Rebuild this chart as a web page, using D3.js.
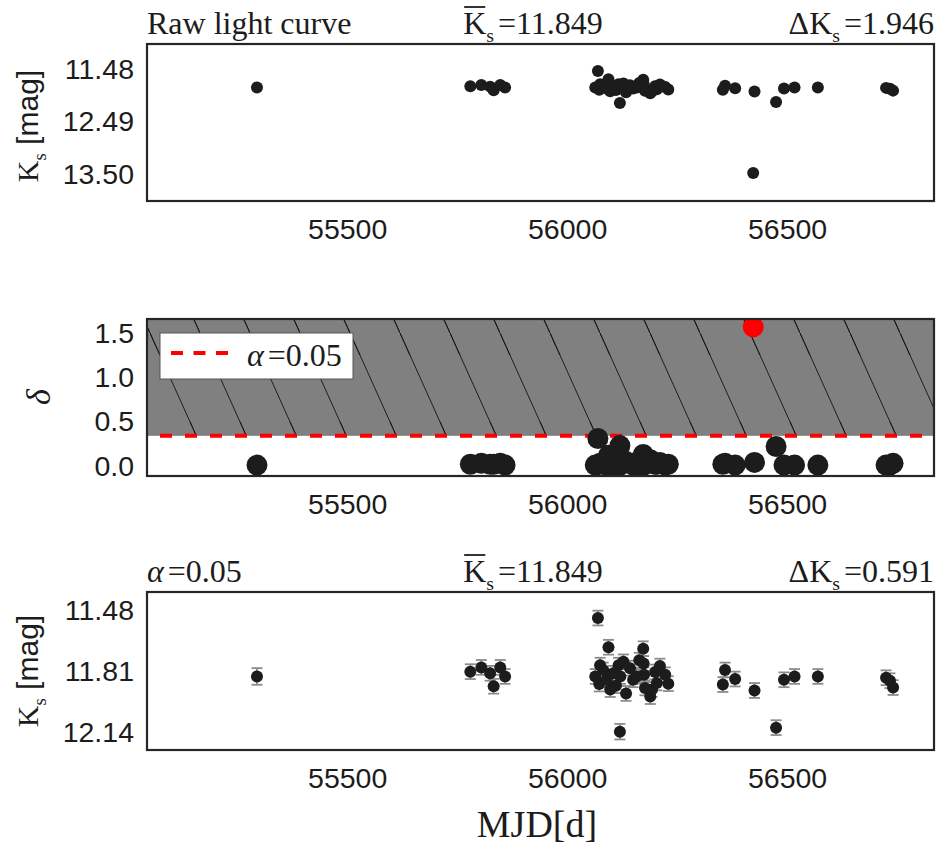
<!DOCTYPE html>
<html>
<head>
<meta charset="utf-8">
<script src="https://cdn.jsdelivr.net/npm/d3@7"></script>
<style>
  body { margin: 0; background: #fff; }
</style>
</head>
<body>
<svg id="chart" width="938" height="846"></svg>
<script>
// epochs (MJD) of the light curve
const mjd = [55295, 55780, 55805, 55825, 55833, 55848, 55859,
  56064, 56070, 56073, 56075, 56082, 56090, 56094, 56098, 56105, 56111, 56117,
  56120, 56121, 56128, 56134, 56143, 56150, 56158, 56164, 56173, 56174, 56175,
  56177, 56189, 56193, 56200, 56204, 56211, 56223, 56230,
  56354, 56359, 56382, 56423, 56426, 56475, 56493, 56517, 56570,
  56725, 56734, 56741];
// Ks magnitudes
const kMag = [11.837, 11.811, 11.788, 11.820, 11.890, 11.788, 11.837,
  11.837, 11.521, 11.878, 11.776, 11.802, 11.855, 11.679, 11.908, 11.820, 11.887, 11.776,
  12.136, 11.837, 11.758, 11.929, 11.792, 11.855, 11.837, 11.749, 11.687, 11.767, 11.828,
  11.899, 11.946, 11.908, 11.813, 11.872, 11.781, 11.828, 11.876,
  11.881, 11.802, 11.851, 13.480, 11.913, 12.114, 11.855, 11.837, 11.837,
  11.844, 11.860, 11.897];
// photometric errors
const kErr = [0.045, 0.040, 0.040, 0.040, 0.040, 0.040, 0.040,
  0.040, 0.040, 0.040, 0.040, 0.040, 0.040, 0.040, 0.040, 0.040, 0.040, 0.040,
  0.042, 0.040, 0.040, 0.040, 0.040, 0.040, 0.040, 0.040, 0.040, 0.040, 0.040,
  0.040, 0.040, 0.040, 0.040, 0.040, 0.040, 0.040, 0.040,
  0.040, 0.040, 0.040, 0.050, 0.040, 0.040, 0.040, 0.040, 0.040,
  0.040, 0.040, 0.040];
// outlier statistic delta
const deltaVal = [0.01, 0.02, 0.03, 0.02, 0.02, 0.03, 0.01,
  0.01, 0.31, 0.02, 0.03, 0.02, 0.01, 0.12, 0.04, 0.01, 0.03, 0.04,
  0.23, 0.01, 0.06, 0.05, 0.03, 0.01, 0.01, 0.06, 0.13, 0.05, 0.01,
  0.03, 0.07, 0.04, 0.02, 0.02, 0.04, 0.01, 0.02,
  0.02, 0.03, 0.01, 1.57, 0.04, 0.22, 0.01, 0.01, 0.01,
  0.01, 0.01, 0.03];

const deltaCrit = 0.34;
const alphaLabel = '0.05';
const rawMean = '11.849', rawRange = '1.946';
const cleanMean = '11.849', cleanRange = '0.591';

const xTicks = [55500, 56000, 56500];
const rawTicks = [11.48, 12.49, 13.50];
const deltaTicks = [0.0, 0.5, 1.0, 1.5];
const cleanTicks = [11.48, 11.81, 12.14];

const obs = mjd.map((d, i) => ({ mjd: d, k: kMag[i], err: kErr[i], delta: deltaVal[i] }));
const clean = obs.filter(d => d.delta < deltaCrit);

const SERIF = '"Liberation Serif", "DejaVu Serif", serif';
const SANS = '"Liberation Sans", Arial, sans-serif';
const INK = '#1c1c1c';

const svg = d3.select('#chart');
const left = 147, right = 934;

const x = d3.scaleLinear().domain([55045, 56834]).range([left, right]);

const yRaw = d3.scaleLinear().domain([11.0, 14.02]).range([44, 201]);
const yDelta = d3.scaleLinear().domain([-0.113, 1.658]).range([476, 319]);
const yClean = d3.scaleLinear().domain([11.38, 12.235]).range([592, 750]);

const defs = svg.append('defs');

function clipFor(id, y) {
  const top = Math.min(...y.range()), bottom = Math.max(...y.range());
  defs.append('clipPath').attr('id', id)
    .append('rect')
    .attr('x', left).attr('y', top)
    .attr('width', right - left)
    .attr('height', bottom - top);
}

function axes(y, ticks, fmt) {
  const top = Math.min(...y.range()), bottom = Math.max(...y.range());
  const gx = svg.append('g')
    .attr('transform', 'translate(0,' + bottom + ')')
    .call(d3.axisBottom(x).tickValues(xTicks).tickSize(0).tickPadding(17).tickFormat(d3.format('d')));
  const gy = svg.append('g')
    .attr('transform', 'translate(' + left + ',0)')
    .call(d3.axisLeft(y).tickValues(ticks).tickSize(0).tickPadding(13).tickFormat(fmt));
  [gx, gy].forEach(g => {
    g.select('.domain').remove();
    g.selectAll('text')
      .attr('font-family', SANS)
      .attr('font-size', 28.5)
      .attr('fill', INK);
  });
  gx.selectAll('text').attr('dy', '0.72em');
  // frame
  svg.append('rect')
    .attr('x', left).attr('y', top)
    .attr('width', right - left).attr('height', bottom - top)
    .attr('fill', 'none')
    .attr('stroke', '#262626')
    .attr('stroke-width', 2.2);
}

// piece-wise math-like label: [{t, sub, over, it, sans}]
function mathText(parent, pieces, xPos, yPos, anchor, size) {
  const t = parent.append('text')
    .attr('x', xPos).attr('y', yPos)
    .attr('text-anchor', anchor)
    .attr('font-family', SERIF)
    .attr('font-size', size)
    .attr('fill', INK);
  let shift = 0;
  pieces.forEach(p => {
    const sp = t.append('tspan').text(p.t);
    let dy = 0;
    if (p.sub && shift === 0) { dy = size * 0.26; shift = dy; }
    else if (!p.sub && shift !== 0) { dy = -shift; shift = 0; }
    if (dy) sp.attr('dy', dy);
    if (p.sub) sp.attr('font-size', size * 0.62);
    if (p.it) sp.attr('font-style', 'italic');
    if (p.sans) sp.attr('font-family', SANS);
    if (p.dx) sp.attr('dx', p.dx);
  });
  // overlines
  let idx = 0;
  pieces.forEach(p => {
    if (p.over) {
      const node = t.node();
      const a = node.getExtentOfChar(idx);
      const b = node.getExtentOfChar(idx + p.t.length - 1);
      parent.append('line')
        .attr('x1', a.x + 1).attr('x2', b.x + b.width - 1)
        .attr('y1', a.y + 2).attr('y2', a.y + 2)
        .attr('stroke', INK).attr('stroke-width', 1.8);
    }
    idx += p.t.length;
  });
  return t;
}

// ---------- panel 1: raw light curve ----------
clipFor('clipRaw', yRaw);
axes(yRaw, rawTicks, d3.format('.2f'));
svg.append('g').attr('clip-path', 'url(#clipRaw)')
  .selectAll('circle').data(obs).join('circle')
  .attr('cx', d => x(d.mjd)).attr('cy', d => yRaw(d.k))
  .attr('r', 6).attr('fill', INK);

const t1 = 34;
mathText(svg, [{ t: 'Raw light curve' }], left, t1, 'start', 32);
mathText(svg, [{ t: 'K', over: true }, { t: 's', sub: true }, { t: '=' + rawMean, dx: 4 }], 533, t1, 'middle', 32);
mathText(svg, [{ t: '\u0394K' }, { t: 's', sub: true }, { t: '=' + rawRange, dx: 4 }], right, t1, 'end', 32);

// ---------- panel 2: delta statistic ----------
clipFor('clipDelta', yDelta);
const gD = svg.append('g').attr('clip-path', 'url(#clipDelta)');

const hatch = defs.append('pattern')
  .attr('id', 'hatch')
  .attr('patternUnits', 'userSpaceOnUse')
  .attr('width', 50).attr('height', 111);
hatch.append('rect').attr('width', 50).attr('height', 111).attr('fill', '#808080');
hatch.append('path')
  .attr('d', 'M-10,-22.2L60,133.2M-60,-133.2L10,22.2M40,88.8L110,244.2')
  .attr('stroke', '#111').attr('stroke-width', 0.9).attr('fill', 'none');

gD.append('rect')
  .attr('x', left).attr('y', yDelta.range()[1])
  .attr('width', right - left)
  .attr('height', yDelta(deltaCrit) - yDelta.range()[1])
  .attr('fill', 'url(#hatch)');

gD.append('line')
  .attr('x1', left).attr('x2', right)
  .attr('y1', yDelta(deltaCrit)).attr('y2', yDelta(deltaCrit))
  .attr('stroke', '#ff0000').attr('stroke-width', 4)
  .attr('stroke-dasharray', '12,13').attr('stroke-dashoffset', 12);

gD.selectAll('circle').data(obs).join('circle')
  .attr('cx', d => x(d.mjd)).attr('cy', d => yDelta(d.delta))
  .attr('r', 10.5)
  .attr('fill', d => d.delta > deltaCrit ? '#ff0000' : INK);

axes(yDelta, deltaTicks, d3.format('.1f'));

// legend
const lg = svg.append('g');
lg.append('rect')
  .attr('x', 160).attr('y', 333).attr('width', 193).attr('height', 46)
  .attr('fill', '#fff').attr('stroke', '#555').attr('stroke-width', 1);
lg.append('line')
  .attr('x1', 171).attr('x2', 228).attr('y1', 353).attr('y2', 353)
  .attr('stroke', '#ff0000').attr('stroke-width', 4)
  .attr('stroke-dasharray', '12,10.5');
mathText(lg, [{ t: '\u03B1', it: true }, { t: '=' + alphaLabel, dx: 4 }], 247, 366, 'start', 32);

// ---------- panel 3: cleaned light curve ----------
clipFor('clipClean', yClean);
axes(yClean, cleanTicks, d3.format('.2f'));
const gC = svg.append('g').attr('clip-path', 'url(#clipClean)');
const eb = gC.append('g').attr('stroke', '#8c8c8c').attr('stroke-width', 1.8);
eb.selectAll('line.v').data(clean).join('line').attr('class', 'v')
  .attr('x1', d => x(d.mjd)).attr('x2', d => x(d.mjd))
  .attr('y1', d => yClean(d.k - d.err)).attr('y2', d => yClean(d.k + d.err));
eb.selectAll('line.t').data(clean).join('line').attr('class', 't')
  .attr('x1', d => x(d.mjd) - 5.5).attr('x2', d => x(d.mjd) + 5.5)
  .attr('y1', d => yClean(d.k - d.err)).attr('y2', d => yClean(d.k - d.err));
eb.selectAll('line.b').data(clean).join('line').attr('class', 'b')
  .attr('x1', d => x(d.mjd) - 5.5).attr('x2', d => x(d.mjd) + 5.5)
  .attr('y1', d => yClean(d.k + d.err)).attr('y2', d => yClean(d.k + d.err));
gC.selectAll('circle').data(clean).join('circle')
  .attr('cx', d => x(d.mjd)).attr('cy', d => yClean(d.k))
  .attr('r', 6).attr('fill', INK);

const t3 = 582;
mathText(svg, [{ t: '\u03B1', it: true }, { t: '=' + alphaLabel, dx: 4 }], left, t3, 'start', 32);
mathText(svg, [{ t: 'K', over: true }, { t: 's', sub: true }, { t: '=' + cleanMean, dx: 4 }], 533, t3, 'middle', 32);
mathText(svg, [{ t: '\u0394K' }, { t: 's', sub: true }, { t: '=' + cleanRange, dx: 4 }], right, t3, 'end', 32);

// ---------- axis titles ----------
function yTitle(cy) {
  const g = svg.append('g').attr('transform', 'translate(38,' + cy + ') rotate(-90)');
  mathText(g, [{ t: 'K' }, { t: 's', sub: true }, { t: ' [mag]', sans: true }], 0, 0, 'middle', 30);
}
yTitle(126);
yTitle(671);

const gd = svg.append('g').attr('transform', 'translate(50,397) rotate(-90)');
mathText(gd, [{ t: '\u03B4', it: true }], 0, 0, 'middle', 34);

mathText(svg, [{ t: 'MJD[d]' }], 537, 837, 'middle', 38);
</script>
</body>
</html>
